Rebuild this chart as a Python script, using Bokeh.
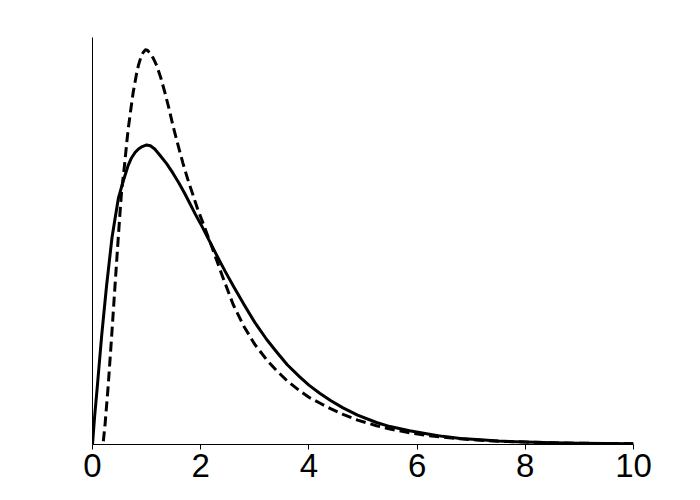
from bokeh.plotting import figure
from bokeh.models import Range1d, FixedTicker
from bokeh.embed import file_html
from bokeh.resources import INLINE

# Solid curve
solid_x = [0, 0.04, 0.09, 0.17, 0.26, 0.36, 0.42, 0.48, 0.57, 0.66, 0.72, 0.79, 0.85, 0.92, 1.0,
           1.07, 1.15, 1.25, 1.37, 1.49, 1.6, 1.7, 1.8, 1.9, 2.0, 2.17, 2.3, 2.45, 2.6, 2.8, 3.0,
           3.22, 3.4, 3.6, 3.83, 4.0, 4.2, 4.4, 4.63, 4.9, 5.25, 5.5, 5.86, 6.2, 6.47, 6.8, 7.1,
           7.5, 8.0, 8.5, 9.0, 10.0]
solid_y = [0, 0.035, 0.072, 0.134, 0.195, 0.254, 0.279, 0.303, 0.324, 0.343, 0.352, 0.359, 0.363, 0.366, 0.368,
           0.367, 0.363, 0.355, 0.345, 0.333, 0.321, 0.309, 0.296, 0.283, 0.271, 0.249, 0.232, 0.213, 0.195, 0.172, 0.150,
           0.129, 0.114, 0.098, 0.083, 0.073, 0.063, 0.054, 0.045, 0.036, 0.027, 0.022, 0.017, 0.013, 0.010, 0.0075, 0.006,
           0.0042, 0.003, 0.002, 0.0015, 0.001]

# Dashed curve
dash_x = [0.2, 0.23, 0.29, 0.355, 0.416, 0.476, 0.508, 0.539, 0.587, 0.632, 0.661, 0.711, 0.753,
          0.816, 0.85, 0.9, 0.94, 0.98, 1.02, 1.06, 1.12, 1.19, 1.26, 1.34, 1.42, 1.49, 1.58, 1.67,
          1.76, 1.86, 1.94, 2.02, 2.2, 2.4, 2.6, 2.8, 3.0, 3.22, 3.4, 3.6, 3.83, 4.0, 4.2, 4.4,
          4.63, 4.9, 5.25, 5.5, 5.86, 6.2, 6.47, 6.8, 7.1, 7.5, 8.0, 8.5, 9.0, 10.0]
dash_y = [0.004, 0.023, 0.072, 0.134, 0.195, 0.254, 0.284, 0.312, 0.340, 0.370, 0.388, 0.413, 0.433,
          0.456, 0.466, 0.477, 0.482, 0.485, 0.484, 0.481, 0.475, 0.465, 0.451, 0.432, 0.411, 0.391, 0.368, 0.346,
          0.326, 0.306, 0.290, 0.276, 0.244, 0.207, 0.172, 0.145, 0.123, 0.104, 0.091, 0.078, 0.066, 0.058, 0.051, 0.044,
          0.037, 0.030, 0.023, 0.019, 0.0145, 0.011, 0.009, 0.007, 0.0055, 0.004, 0.003, 0.002, 0.0015, 0.001]

x_ticks = [0, 2, 4, 6, 8, 10]

p = figure(width=690, height=492, output_backend="svg", toolbar_location=None,
           x_range=Range1d(0, 10), y_range=Range1d(0, 0.5),
           min_border_left=92, min_border_right=57, min_border_top=37, min_border_bottom=48)
p.outline_line_color = None
p.xgrid.visible = False
p.ygrid.visible = False
p.background_fill_color = "white"
p.border_fill_color = "white"

p.line(solid_x, solid_y, line_color="black", line_width=3, line_join="round")
p.line(dash_x, dash_y, line_color="black", line_width=3, line_dash="10 5", line_join="round")

p.xaxis.ticker = FixedTicker(ticks=x_ticks)
p.xaxis.axis_line_color = "black"
p.xaxis.axis_line_width = 1
p.xaxis.major_tick_in = 0
p.xaxis.major_tick_out = 5
p.xaxis.minor_tick_line_color = None
p.xaxis.major_label_text_font = "Liberation Sans"
p.xaxis.major_label_text_font_size = "33px"
p.xaxis.major_label_text_color = "black"
p.xaxis.major_label_standoff = 4

p.yaxis.major_tick_line_color = None
p.yaxis.minor_tick_line_color = None
p.yaxis.major_label_text_font_size = "0px"
p.yaxis.axis_line_color = "black"

open("out.html", "w").write(file_html(p, INLINE))
